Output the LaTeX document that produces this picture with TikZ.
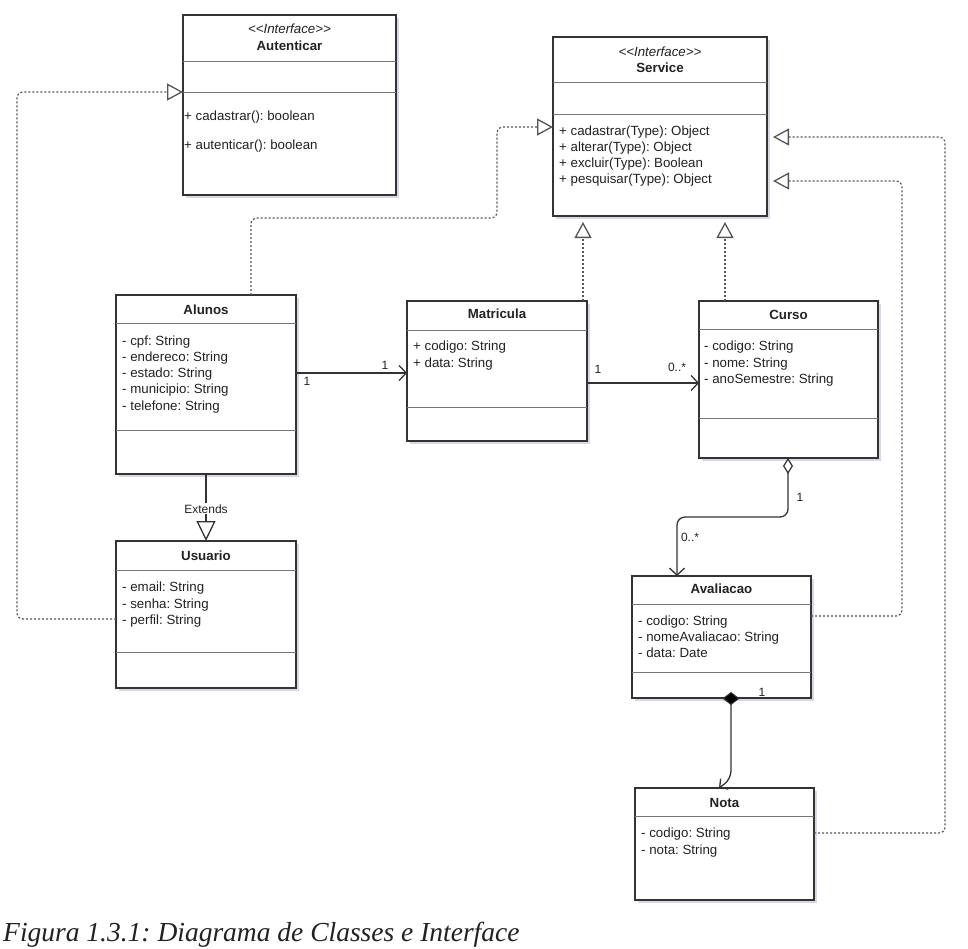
\documentclass[tikz,border=0pt]{standalone}
\usepackage{fontspec}
\setmainfont{Liberation Sans}
\newfontfamily\capfont{Liberation Serif}
\usetikzlibrary{arrows.meta,shadows,calc}
\frenchspacing

\definecolor{boxline}{HTML}{333333}
\definecolor{sepline}{HTML}{777777}
\definecolor{txtc}{HTML}{222222}
\definecolor{dotc}{HTML}{555555}

\tikzset{
 clsbox/.style={draw=boxline, line width=1.3pt, fill=white, inner sep=0pt, outer sep=0pt, anchor=north west,
   drop shadow={shadow xshift=2.5pt, shadow yshift=-3pt, opacity=0.25, fill=blue!20!gray}},
 sepl/.style={draw=sepline, line width=0.9pt},
 txt/.style={inner sep=0pt, anchor=base west, text=txtc, font=\fontsize{13.3}{16}\selectfont},
 ttl/.style={txt, anchor=base, font=\fontsize{13.3}{16}\selectfont\bfseries},
 ster/.style={txt, anchor=base, font=\fontsize{13.3}{16}\selectfont\itshape},
 real/.style={draw=dotc, line width=1.2pt, dash pattern=on 2pt off 2pt, rounded corners=6pt,
   -{Triangle[fill=white, length=16pt, width=17pt, line width=1.3pt]}},
 gap/.style={shorten >=6pt},
 assoc/.style={draw=boxline, line width=1.3pt, rounded corners=8pt},
 mult/.style={inner sep=1pt, fill=white, text=txtc, font=\fontsize{12}{14}\selectfont},
}

\newcommand{\umlcls}[5]{%
  \node[clsbox, minimum width={#4-#2}, minimum height={#5-#3}] (#1) at (#2,#3) {};}

\begin{document}
\begin{tikzpicture}[x=1pt,y=-1pt]
\fill[white] (0,0) rectangle (968,948);
\useasboundingbox (0,0) rectangle (968,948);

% ---------- classes ----------
\umlcls{autenticar}{183}{15}{396}{195}
\draw[sepl] (183,61) -- (396,61);
\draw[sepl] (183,92) -- (396,92);
\node[ster] (autst) at (289.5,33) {<{}<Interface>{}>};
\node[ttl] (autnm) at (289.5,50) {Autenticar};
\node[txt] (aut1) at (184,120) {+ cadastrar(): boolean};
\node[txt] (aut2) at (184,149) {+ autenticar(): boolean};

\umlcls{service}{553}{37}{767}{216}
\draw[sepl] (553,82) -- (767,82);
\draw[sepl] (553,114) -- (767,114);
\node[ster] (servst) at (660,56) {<{}<Interface>{}>};
\node[ttl] (servnm) at (660,72) {Service};
\node[txt] (serv1) at (559,135) {+ cadastrar(Type): Object};
\node[txt] (serv2) at (559,151) {+ alterar(Type): Object};
\node[txt] (serv3) at (559,167) {+ excluir(Type): Boolean};
\node[txt] (serv4) at (559,183) {+ pesquisar(Type): Object};

\umlcls{alunos}{116}{295}{296}{474}
\draw[sepl] (116,323) -- (296,323);
\draw[sepl] (116,430) -- (296,430);
\node[ttl] (alnm) at (206,314) {Alunos};
\node[txt] (al1) at (122,345) {- cpf: String};
\node[txt] (al2) at (122,361) {- endereco: String};
\node[txt] (al3) at (122,377) {- estado: String};
\node[txt] (al4) at (122,393) {- municipio: String};
\node[txt] (al5) at (122,410) {- telefone: String};

\umlcls{matricula}{407}{301}{587}{441}
\draw[sepl] (407,330) -- (587,330);
\draw[sepl] (407,407) -- (587,407);
\node[ttl] (matnm) at (497,318) {Matricula};
\node[txt] (mat1) at (413,350) {+ codigo: String};
\node[txt] (mat2) at (413,367) {+ data: String};

\umlcls{curso}{699}{301}{878}{458}
\draw[sepl] (699,329) -- (878,329);
\draw[sepl] (699,418) -- (878,418);
\node[ttl] (curnm) at (788.5,319) {Curso};
\node[txt] (cur1) at (704,350) {- codigo: String};
\node[txt] (cur2) at (704,367) {- nome: String};
\node[txt] (cur3) at (704,383) {- anoSemestre: String};

\umlcls{usuario}{116}{541}{296}{688}
\draw[sepl] (116,570) -- (296,570);
\draw[sepl] (116,652) -- (296,652);
\node[ttl] (usnm) at (206,560) {Usuario};
\node[txt] (us1) at (122,591) {- email: String};
\node[txt] (us2) at (122,608) {- senha: String};
\node[txt] (us3) at (122,624) {- perfil: String};

\umlcls{avaliacao}{632}{576}{811}{698}
\draw[sepl] (632,604) -- (811,604);
\draw[sepl] (632,672) -- (811,672);
\node[ttl] (avnm) at (721.5,593) {Avaliacao};
\node[txt] (av1) at (638,625) {- codigo: String};
\node[txt] (av2) at (638,641) {- nomeAvaliacao: String};
\node[txt] (av3) at (638,657) {- data: Date};

\umlcls{nota}{635}{788}{814}{900}
\draw[sepl] (635,816) -- (814,816);
\node[ttl] (notnm) at (724.5,807) {Nota};
\node[txt] (not1) at (641,837) {- codigo: String};
\node[txt] (not2) at (641,854) {- nota: String};

% ---------- realizations (dotted) ----------
\draw[real] ($(usuario.north west)+(0,78)$) -- (17,619) -- (17,92) -- ($(autenticar.north west)+(0,77)$);
\draw[real] ($(alunos.north west)+(135,0)$) -- (251,218) -- (497,218) -- (497,127) -- ($(service.north west)+(0,90)$);
\draw[real, gap] ($(matricula.north west)+(176,0)$) -- ($(service.south west)+(30,0)$);
\draw[real, gap] ($(curso.north west)+(26,0)$) -- ($(service.south west)+(172,0)$);
\draw[real, gap] ($(avaliacao.north east)+(0,40)$) -- (902,616) -- (902,181) -- ($(service.north east)+(0,144)$);
\draw[real, gap] ($(nota.north east)+(0,45)$) -- (945,833) -- (945,137) -- ($(service.north east)+(0,100)$);

% ---------- associations ----------
\draw[assoc, -{Straight Barb[length=7pt, width=15pt, line width=1.3pt]}]
  ($(alunos.north east)+(0,78)$) -- ($(matricula.north west)+(0,72)$);
\draw[assoc, -{Straight Barb[length=7pt, width=15pt, line width=1.3pt]}]
  ($(matricula.north east)+(0,82)$) -- ($(curso.north west)+(0,82)$);
\draw[assoc, {Diamond[fill=white, length=16pt, width=10pt, line width=1.2pt]}-{Straight Barb[length=7pt, width=15pt, line width=1.3pt]}]
  ($(curso.south west)+(89,0)$) -- (788,517) -- (677,517) -- ($(avaliacao.north west)+(45,0)$);
\draw[assoc, {Diamond[fill=black, length=13pt, width=17pt, line width=1pt]}-{Straight Barb[length=6pt, width=13pt, line width=1.3pt]}]
  ($(avaliacao.south west)+(99,-6)$) -- (731,779) -- ($(nota.north west)+(84,0)$);
\draw[draw=boxline, line width=1.3pt, -{Triangle[fill=white, length=20pt, width=19pt, line width=1.3pt]}]
  (alunos.south) -- (usuario.north) node[mult, pos=0.52] (ext) {Extends};

% ---------- multiplicities ----------
\node[mult] (m1) at (307,381) {1};
\node[mult] (m2) at (385,365) {1};
\node[mult] (m3) at (598,369) {1};
\node[mult] (m4) at (677,367) {0..*};
\node[mult] (m5) at (800,497) {1};
\node[mult] (m6) at (690,537) {0..*};
\node[mult] (m7) at (762,692) {1};

% ---------- caption ----------
\node[anchor=base west, inner sep=0pt, text=txtc, font=\capfont\itshape\fontsize{27.5}{30}\selectfont] (cap) at (3,941)
  {Figura 1.3.1: Diagrama de Classes e Interface};
\end{tikzpicture}
\end{document}
